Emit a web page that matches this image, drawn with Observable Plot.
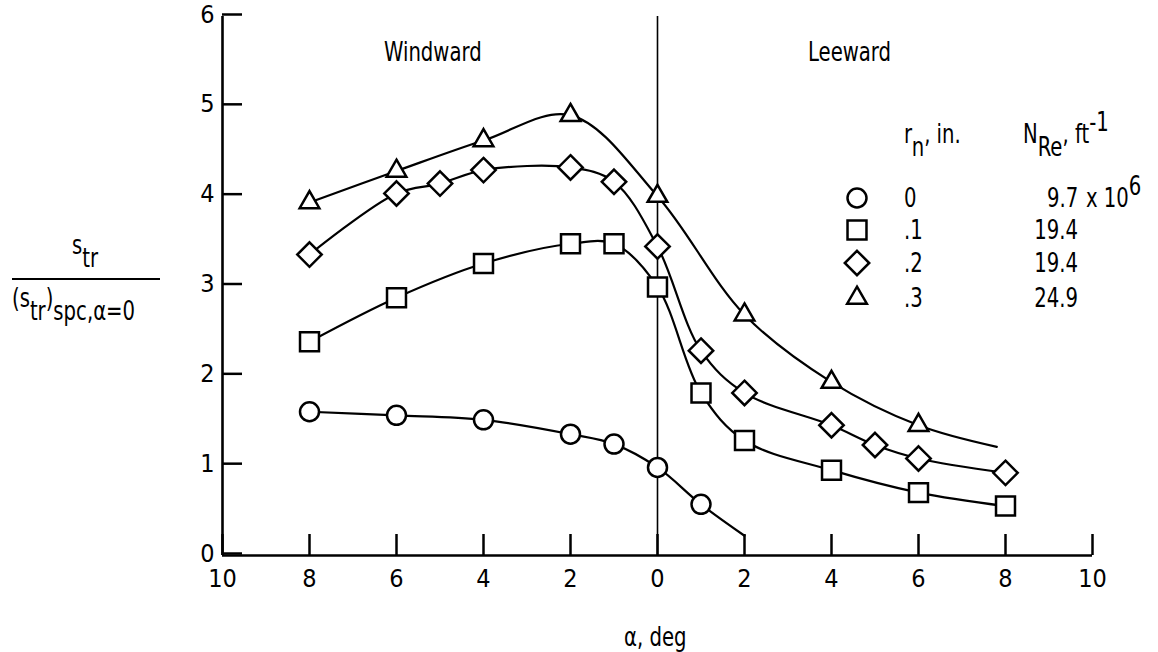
<!DOCTYPE html>
<html><head><meta charset="utf-8">
<script src="https://cdn.jsdelivr.net/npm/d3@7"></script>
<script src="https://cdn.jsdelivr.net/npm/@observablehq/plot@0.6"></script>
<style>
body{margin:0;background:#fff;}
#wrap{position:relative;width:1158px;height:652px;font-family:"Liberation Sans Narrow","DejaVu Sans Condensed",sans-serif;color:#000;overflow:hidden;}
.t{position:absolute;white-space:nowrap;font-size:26px;line-height:1;transform:scaleX(0.84);transform-origin:0 50%;}
.sub{position:relative;top:0.5em;}
.sup{position:relative;top:-0.45em;}
</style></head><body><div id="wrap"></div>
<script>
// ---- data ----
const alphaCircle = [-8, -6, -4, -2, -1, 0, 1];
const valCircle   = [1.60, 1.56, 1.51, 1.35, 1.24, 0.98, 0.57];
const circleEnd   = {alpha: 2, value: 0.22};

const alphaSquare = [-8, -6, -4, -2, -1, 0, 1, 2, 4, 6, 8];
const valSquare   = [2.38, 2.87, 3.25, 3.47, 3.47, 2.99, 1.81, 1.28, 0.95, 0.70, 0.55];

const alphaDiamond = [-8, -6, -5, -4, -2, -1, 0, 1, 2, 4, 5, 6, 8];
const valDiamond   = [3.35, 4.03, 4.14, 4.29, 4.32, 4.16, 3.44, 2.28, 1.81, 1.45, 1.23, 1.08, 0.92];

const alphaTriangle = [-8, -6, -4, -2, 0, 2, 4, 6];
const valTriangle   = [3.93, 4.28, 4.62, 4.90, 4.00, 2.68, 1.93, 1.45];
const triangleEnd   = {alpha: 7.8, value: 1.21};

const xTicks = [-10, -8, -6, -4, -2, 0, 2, 4, 6, 8, 10];
const yTicks = [0, 1, 2, 3, 4, 5, 6];

const legendR  = ["0", ".1", ".2", ".3"];
const legendRe = ["9.7", "19.4", "19.4", "24.9"];

// ---- build ----
const rows = (a, v) => a.map((x, i) => ({alpha: x, value: v[i]}));
const series = [
  {pts: rows(alphaCircle, valCircle), end: circleEnd, symbol: "circle", r: 9.5, d3s: d3.symbolCircle},
  {pts: rows(alphaSquare, valSquare), end: null, symbol: "square", r: 10.7, d3s: d3.symbolSquare},
  {pts: rows(alphaDiamond, valDiamond), end: null, symbol: "diamond2", r: 11, d3s: d3.symbolDiamond2},
  {pts: rows(alphaTriangle, valTriangle), end: triangleEnd, symbol: "triangle2", r: 9.4, d3s: d3.symbolTriangle2}
];

const marks = [
  Plot.ruleX([0], {y1: 0, y2: 6, strokeWidth: 1.6}),
  Plot.ruleX([-10], {y1: 0, y2: 6, strokeWidth: 2.6}),
  Plot.ruleY([0], {x1: -10, x2: 10, strokeWidth: 2.6}),
  Plot.axisX(xTicks, {tickSize: -21, tickPadding: 35, tickFormat: d => String(Math.abs(d)), fontSize: 25, strokeWidth: 2.5, label: null}),
  Plot.axisY(yTicks, {anchor: "left", tickSize: -20, tickPadding: 28, tickFormat: d => String(d), fontSize: 25, dy: -2, strokeWidth: 2.5, label: null})
];
for (const s of series) {
  const lineData = s.end ? [...s.pts, s.end] : s.pts;
  marks.push(Plot.line(lineData, {x: "alpha", y: "value", curve: "catmull-rom", stroke: "black", strokeWidth: 2.2}));
}
for (const s of series) {
  marks.push(Plot.dot(s.pts, {x: "alpha", y: "value", symbol: s.symbol, r: s.r, fill: "white", stroke: "black", strokeWidth: 2.5}));
}

const chart = Plot.plot({
  width: 1158,
  height: 652,
  marginLeft: 222,
  marginRight: 66,
  marginTop: 16,
  marginBottom: 97,
  x: {domain: [-10, 10]},
  y: {domain: [0, 6]},
  style: {fontFamily: "'Liberation Sans Narrow','DejaVu Sans Condensed',sans-serif", fontSize: "26px", color: "black", background: "white"},
  marks
});
chart.style.position = "absolute";
chart.style.left = "0px";
chart.style.top = "0px";
const wrap = document.getElementById("wrap");
wrap.appendChild(chart);

function addText(html, left, top, extra) {
  const d = document.createElement("div");
  d.className = "t";
  d.innerHTML = html;
  d.style.left = left + "px";
  d.style.top = top + "px";
  if (extra) Object.assign(d.style, extra);
  wrap.appendChild(d);
  return d;
}

// region labels
addText("Windward", 384, 39);
addText("Leeward", 808, 39);

// x title
addText("α, deg", 624, 624);

// y title (fraction)
addText('s<span class="sub">tr</span>', 72, 232);
const bar = document.createElement("div");
Object.assign(bar.style, {position: "absolute", left: "12px", top: "278px", width: "148px", height: "2px", background: "black"});
wrap.appendChild(bar);
addText('(s<span class="sub">tr</span>)<span class="sub">spc,α=0</span>', 12, 285);

// legend header
addText('r<span class="sub">n</span>, in.', 904, 121);
addText('N<span class="sub">Re</span>, ft<span class="sup">-1</span>', 1023, 121);

// legend rows
const rowY = [198, 230, 263, 298];
series.forEach((s, i) => {
  const svg = d3.create("svg").attr("width", 30).attr("height", 30)
    .style("position", "absolute").style("left", (857 - 15) + "px").style("top", (rowY[i] - 15) + "px");
  svg.append("path")
    .attr("d", d3.symbol(s.d3s, Math.PI * s.r * s.r)())
    .attr("transform", "translate(15,15)")
    .attr("fill", "white").attr("stroke", "black").attr("stroke-width", 2.5);
  wrap.appendChild(svg.node());
  addText(legendR[i], 904, rowY[i] - 13);
  addText(legendRe[i], 0, rowY[i] - 13, {left: "auto", right: (1158 - 1078) + "px", transformOrigin: "100% 50%"});
  if (i === 0) addText('x 10<span class="sup">6</span>', 1086, rowY[i] - 13);
});
</script>
</body></html>
